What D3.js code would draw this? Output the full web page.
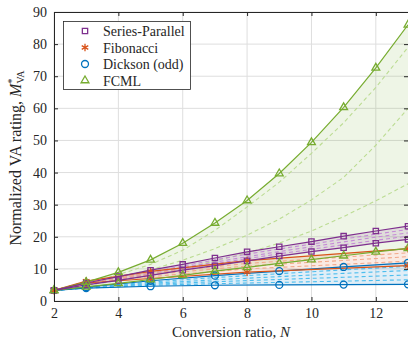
<!DOCTYPE html>
<meta charset="utf-8">
<head>
    <script type="text/javascript" src="https://cdn.jsdelivr.net/npm/d3@7"></script>
    <style>
        body { margin: 0; background: #fff; }
        text { font-family: "Liberation Serif", "DejaVu Serif", serif; fill: #262626; }
    </style>
    <title>Normalized VA rating</title>
</head>
<body>
<div id="chart"></div>
<script type="text/javascript">

    // conversion ratios
    var nAll = [2, 3, 4, 5, 6, 7, 8, 9, 10, 11, 12, 13];
    var nFib = [2, 3, 5, 8, 13];
    var nOdd = [2, 3, 5, 7, 9, 11, 13];

    // Series-Parallel (all N)
    var spUpper = [3.3, 5.6, 7.6, 9.6, 11.4, 13.4, 15.3, 16.9, 18.5, 20.2, 21.8, 23.3];
    var spLower = [3.3, 5.0, 6.4, 8.0, 9.6, 11.0, 12.5, 14.0, 15.4, 16.6, 18.0, 19.2];
    var spDash1 = [3.3, 5.4, 7.2, 9.0, 10.9, 12.8, 14.6, 16.2, 17.7, 19.3, 20.8, 22.3];
    var spDash2 = [3.3, 5.3, 6.9, 8.6, 10.4, 12.1, 13.8, 15.4, 16.9, 18.4, 19.9, 21.2];
    var spDash3 = [3.3, 5.1, 6.7, 8.3, 10.0, 11.6, 13.2, 14.7, 16.1, 17.5, 18.9, 20.2];

    // Fibonacci (Fibonacci N only)
    var fibUpper = [3.3, 6.2, 9.2, 12.6, 16.3];
    var fibLower = [3.3, 5.6, 7.0, 9.0, 11.0];
    var fibDash1 = [3.3, 6.0, 8.7, 11.7, 15.0];
    var fibDash2 = [3.3, 5.9, 8.2, 10.9, 13.8];
    var fibDash3 = [3.3, 5.7, 7.6, 10.0, 12.4];

    // Dickson (odd N)
    var dkUpper = [3.3, 4.3, 6.3, 7.9, 9.3, 10.6, 11.9];
    var dkLower = [3.3, 4.0, 4.6, 4.9, 5.0, 5.1, 5.2];
    var dkDash1 = [3.3, 4.25, 5.9, 7.3, 8.5, 9.7, 10.8];
    var dkDash2 = [3.3, 4.2, 5.5, 6.6, 7.6, 8.6, 9.5];
    var dkDash3 = [3.3, 4.1, 5.2, 6.0, 6.7, 7.4, 8.1];
    var dkDash4 = [3.3, 4.05, 4.9, 5.4, 5.8, 6.2, 6.6];

    // FCML (all N)
    var fcUpper = [3.3, 5.9, 8.9, 12.8, 18.0, 24.3, 31.3, 39.7, 49.4, 60.3, 72.6, 86.0];
    var fcLower = [3.3, 4.4, 5.5, 6.7, 8.0, 9.3, 10.5, 11.7, 12.9, 14.1, 15.3, 16.4];
    var fcDash1 = [3.3, 5.6, 8.2, 11.4, 15.8, 22.0, 29.3, 37.0, 46.0, 55.5, 66.5, 79.0];
    var fcDash2 = [3.3, 5.2, 7.3, 9.7, 12.7, 16.3, 20.5, 25.5, 31.5, 38.5, 48.5, 60.0];
    var fcDash3 = [3.3, 4.8, 6.4, 8.2, 10.2, 12.5, 15.0, 18.0, 21.8, 26.3, 31.2, 36.5];

    var xTicks = [2, 4, 6, 8, 10, 12];
    var yTicks = [0, 10, 20, 30, 40, 50, 60, 70, 80, 90];
    var legendNames = ["Series-Parallel", "Fibonacci", "Dickson (odd)", "FCML"];

    var w = 408, h = 341;
    var margin = {top: 12, right: 0, bottom: 40, left: 54};

    var svg = d3.select("#chart").append("svg")
                .attr("width", w)
                .attr("height", h);

    var x = d3.scaleLinear().domain([2, 13]).range([margin.left, w - margin.right]);
    var y = d3.scaleLinear().domain([0, 90]).range([h - margin.bottom, margin.top]);

    // colours
    var cSP = "#7E2F8E", cFib = "#D95319", cDk = "#0072BD", cFc = "#77AC30";
    var dSP = "#c58bd6", dFib = "#f2a88a", dDk = "#4DBEEE", dFc = "#bcdc93";

    // grid
    svg.append("g").selectAll("line").data(xTicks).enter().append("line")
        .attr("x1", d => x(d)).attr("x2", d => x(d))
        .attr("y1", y(0)).attr("y2", y(90))
        .attr("stroke", "#dedede").attr("stroke-width", 1);
    svg.append("g").selectAll("line").data(yTicks).enter().append("line")
        .attr("x1", x(2)).attr("x2", x(13))
        .attr("y1", d => y(d)).attr("y2", d => y(d))
        .attr("stroke", "#dedede").attr("stroke-width", 1);

    function pts(ns, vals) {
        return ns.map(function(n, i) { return [n, vals[i]]; });
    }

    var line = d3.line().x(d => x(d[0])).y(d => y(d[1]));

    function band(ns, lo, hi, col) {
        var area = d3.area()
                     .x((d, i) => x(ns[i]))
                     .y0((d, i) => y(lo[i]))
                     .y1((d, i) => y(hi[i]));
        svg.append("path").datum(lo).attr("d", area)
           .attr("fill", col).attr("fill-opacity", 0.12).attr("stroke", "none");
    }

    function dashed(ns, vals, col) {
        svg.append("path").datum(pts(ns, vals)).attr("d", line)
           .attr("fill", "none").attr("stroke", col)
           .attr("stroke-width", 1.1).attr("stroke-dasharray", "4,3");
    }

    function solid(ns, vals, col) {
        svg.append("path").datum(pts(ns, vals)).attr("d", line)
           .attr("fill", "none").attr("stroke", col).attr("stroke-width", 1.2);
    }

    var sym = {
        square: d3.symbol().type(d3.symbolSquare).size(28),
        star: d3.symbol().type(d3.symbolAsterisk).size(40),
        circle: d3.symbol().type(d3.symbolCircle).size(38),
        triangle: d3.symbol().type(d3.symbolTriangle2).size(44)
    };

    function markers(ns, vals, col, kind, skipFirst) {
        var data = pts(ns, vals);
        if (skipFirst) data = data.slice(1);
        svg.append("g").selectAll("path").data(data).enter().append("path")
           .attr("transform", d => "translate(" + x(d[0]) + "," + y(d[1]) + ")")
           .attr("d", sym[kind])
           .attr("fill", "none").attr("stroke", col).attr("stroke-width", 1.3);
    }

    // shaded bands
    band(nAll, fcLower, fcUpper, cFc);
    band(nAll, spLower, spUpper, cSP);
    band(nFib, fibLower, fibUpper, cFib);
    band(nOdd, dkLower, dkUpper, cDk);

    // dashed intermediate curves
    [fcDash1, fcDash2, fcDash3].forEach(v => dashed(nAll, v, dFc));
    [spDash1, spDash2, spDash3].forEach(v => dashed(nAll, v, dSP));
    [fibDash1, fibDash2, fibDash3].forEach(v => dashed(nFib, v, dFib));
    [dkDash1, dkDash2, dkDash3, dkDash4].forEach(v => dashed(nOdd, v, dDk));

    // bounds
    solid(nOdd, dkLower, cDk); solid(nOdd, dkUpper, cDk);
    solid(nFib, fibLower, cFib); solid(nFib, fibUpper, cFib);
    solid(nAll, fcLower, cFc); solid(nAll, fcUpper, cFc);
    solid(nAll, spLower, cSP); solid(nAll, spUpper, cSP);

    markers(nOdd, dkLower, cDk, "circle", true);
    markers(nOdd, dkUpper, cDk, "circle", true);
    markers(nFib, fibLower, cFib, "star");
    markers(nFib, fibUpper, cFib, "star");
    markers(nAll, spLower, cSP, "square");
    markers(nAll, spUpper, cSP, "square");
    markers(nAll, fcLower, cFc, "triangle");
    markers(nAll, fcUpper, cFc, "triangle");

    // axes box with inward ticks
    var xAxis = d3.axisBottom(x).tickValues(xTicks).tickSizeInner(-4).tickSizeOuter(0).tickPadding(7);
    var yAxis = d3.axisLeft(y).tickValues(yTicks).tickSizeInner(-4).tickSizeOuter(0).tickPadding(7);
    svg.append("g").attr("transform", "translate(0," + y(0) + ")").call(xAxis);
    svg.append("g").attr("transform", "translate(" + x(2) + ",0)").call(yAxis);
    svg.append("g").attr("transform", "translate(0," + y(90) + ")")
       .call(d3.axisTop(x).tickValues(xTicks).tickSizeInner(-4).tickSizeOuter(0).tickFormat(""));
    svg.append("g").attr("transform", "translate(" + x(13) + ",0)")
       .call(d3.axisRight(y).tickValues(yTicks).tickSizeInner(-4).tickSizeOuter(0).tickFormat(""));
    svg.selectAll(".domain").attr("stroke", "#262626").attr("stroke-width", 1);
    svg.selectAll(".tick line").attr("stroke", "#262626");
    svg.selectAll(".tick text").style("font-family", "Liberation Serif, serif")
       .style("font-size", "14px").attr("fill", "#262626");

    // axis labels
    var xl = svg.append("text").attr("x", 231).attr("y", 337)
                .attr("text-anchor", "middle").style("font-size", "15px");
    xl.append("tspan").text("Conversion ratio, ");
    xl.append("tspan").style("font-style", "italic").text("N");

    var yl = svg.append("text").attr("transform", "translate(21,158) rotate(-90)")
                .attr("text-anchor", "middle").style("font-size", "16px");
    yl.append("tspan").text("Normalized VA rating, ");
    yl.append("tspan").style("font-style", "italic").text("M");
    yl.append("tspan").attr("dy", -6).style("font-size", "10px").text("*");
    yl.append("tspan").attr("dy", 9).attr("dx", -5).style("font-size", "10px").text("VA");

    // legend
    var lg = svg.append("g");
    lg.append("rect").attr("x", 63.5).attr("y", 21.5).attr("width", 127).attr("height", 68)
      .attr("fill", "#fff").attr("stroke", "#262626").attr("stroke-width", 0.8);
    var lcols = [cSP, cFib, cDk, cFc];
    var lkinds = ["square", "star", "circle", "triangle"];
    legendNames.forEach(function(name, i) {
        var yy = 31 + i * 16.5;
        lg.append("path").attr("transform", "translate(85," + yy + ")")
          .attr("d", sym[lkinds[i]]).attr("fill", "none")
          .attr("stroke", lcols[i]).attr("stroke-width", 1.3);
        lg.append("text").attr("x", 103).attr("y", yy + 5)
          .style("font-size", "14px").text(name);
    });

</script>
</body>
</html>
